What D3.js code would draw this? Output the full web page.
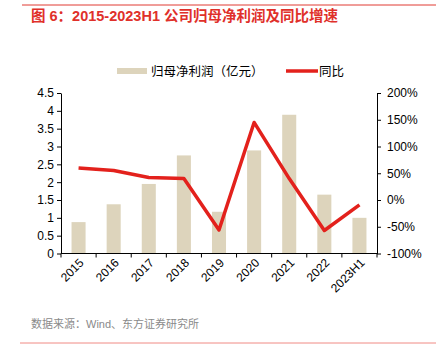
<!DOCTYPE html>
<html>
<head>
<meta charset="utf-8">
<script src="https://cdn.jsdelivr.net/npm/d3@7"></script>
<style>
  body { margin: 0; background: #fff; }
  svg { display: block; font-family: "Liberation Sans", Arial, "Noto Sans CJK SC", sans-serif; }
  .axis path, .axis line { stroke: #000; }
  .axis text { font-size: 12px; fill: #000; }
</style>
</head>
<body>
<div class="svg-container"></div>
<script>
// chart data
const categories = ['2015', '2016', '2017', '2018', '2019', '2020', '2021', '2022', '2023H1'];
const profit = [0.88, 1.38, 1.95, 2.75, 1.17, 2.89, 3.89, 1.65, 1.0];
const yoy = [60, 55, 42, 40, -56, 145, 40, -57, -9];
const leftTicks = [0, 0.5, 1, 1.5, 2, 2.5, 3, 3.5, 4, 4.5];
const rightTicks = [-100, -50, 0, 50, 100, 150, 200];

const W = 436, H = 353;
const plot = {left: 61, right: 377, top: 93, bottom: 253.5};

const svg = d3.select('.svg-container')
  .append('svg')
  .attr('width', W)
  .attr('height', H);

// header line + title
svg.append('line')
  .attr('x1', 22).attr('x2', W).attr('y1', 5).attr('y2', 5)
  .attr('stroke', '#e03a32').attr('stroke-width', 1);

svg.append('text')
  .attr('x', 31).attr('y', 21)
  .attr('fill', '#e0302a')
  .attr('font-size', 14.5)
  .attr('font-weight', 'bold')
  .attr('font-family', '"Liberation Sans", "Noto Sans CJK SC", sans-serif')
  .text('图 6：2015-2023H1 公司归母净利润及同比增速');

// scales
const xScale = d3.scaleBand()
  .domain(categories)
  .range([plot.left, plot.right])
  .paddingInner(0.6)
  .paddingOuter(0.3);

const xEdge = d3.scaleLinear()
  .domain([0, categories.length])
  .range([plot.left, plot.right]);

const yLeft = d3.scaleLinear().domain([0, 4.5]).range([plot.bottom, plot.top]);
const yRight = d3.scaleLinear().domain([-100, 200]).range([plot.bottom, plot.top]);

//bars
svg.selectAll('.bar')
  .data(categories)
  .enter()
  .append('rect')
  .attr('class', 'bar')
  .attr('x', d => xScale(d))
  .attr('width', xScale.bandwidth())
  .attr('y', (d, i) => yLeft(profit[i]))
  .attr('height', (d, i) => yLeft(0) - yLeft(profit[i]))
  .attr('fill', '#ddd4bc');

// line
const line = d3.line()
  .x((d, i) => xScale(categories[i]) + xScale.bandwidth() / 2)
  .y(d => yRight(d));

svg.append('path')
  .datum(yoy)
  .attr('d', line)
  .attr('fill', 'none')
  .attr('stroke', '#e3211c')
  .attr('stroke-width', 3.5)
  .attr('stroke-linejoin', 'round');

// axes
const leftAxis = d3.axisLeft(yLeft)
  .tickValues(leftTicks)
  .tickFormat(d3.format('~g'))
  .tickSizeInner(4).tickSizeOuter(0).tickPadding(3);

svg.append('g')
  .attr('class', 'axis')
  .attr('transform', `translate(${plot.left},0)`)
  .call(leftAxis);

const rightAxis = d3.axisRight(yRight)
  .tickValues(rightTicks)
  .tickFormat(d => d + '%')
  .tickSizeInner(4).tickSizeOuter(0).tickPadding(6);

svg.append('g')
  .attr('class', 'axis')
  .attr('transform', `translate(${plot.right},0)`)
  .call(rightAxis);

// x axis: ticks on category borders
const xAxisG = svg.append('g')
  .attr('class', 'axis')
  .attr('transform', `translate(0,${plot.bottom})`);

xAxisG.append('line')
  .attr('x1', plot.left).attr('x2', plot.right)
  .attr('stroke', '#000');

xAxisG.selectAll('.xtick')
  .data(d3.range(categories.length + 1))
  .enter()
  .append('line')
  .attr('x1', d => xEdge(d)).attr('x2', d => xEdge(d))
  .attr('y1', 0).attr('y2', 4)
  .attr('stroke', '#000');

xAxisG.selectAll('.xlabel')
  .data(categories)
  .enter()
  .append('text')
  .attr('text-anchor', 'end')
  .attr('font-size', 12)
  .attr('transform', d => `translate(${xScale(d) + xScale.bandwidth() / 2 + 6},${10}) rotate(-45)`)
  .text(d => d);

// legend
const legend = svg.append('g').attr('transform', 'translate(0,71)');
legend.append('rect')
  .attr('x', 117).attr('y', -3).attr('width', 30).attr('height', 6)
  .attr('fill', '#ddd4bc');
legend.append('text')
  .attr('x', 151).attr('y', 4.5)
  .attr('font-size', 12.5)
  .text('归母净利润（亿元）');
legend.append('line')
  .attr('x1', 286).attr('x2', 318).attr('y1', 0).attr('y2', 0)
  .attr('stroke', '#e3211c').attr('stroke-width', 3.5);
legend.append('text')
  .attr('x', 319).attr('y', 4.5)
  .attr('font-size', 12.5)
  .text('同比');

// source + footer line
svg.append('text')
  .attr('x', 31).attr('y', 328)
  .attr('font-size', 11)
  .attr('fill', '#8a8a8a')
  .text('数据来源：Wind、东方证券研究所');

svg.append('line')
  .attr('x1', 20).attr('x2', W).attr('y1', 343).attr('y2', 343)
  .attr('stroke', '#f08a84').attr('stroke-width', 1);
</script>
</body>
</html>
